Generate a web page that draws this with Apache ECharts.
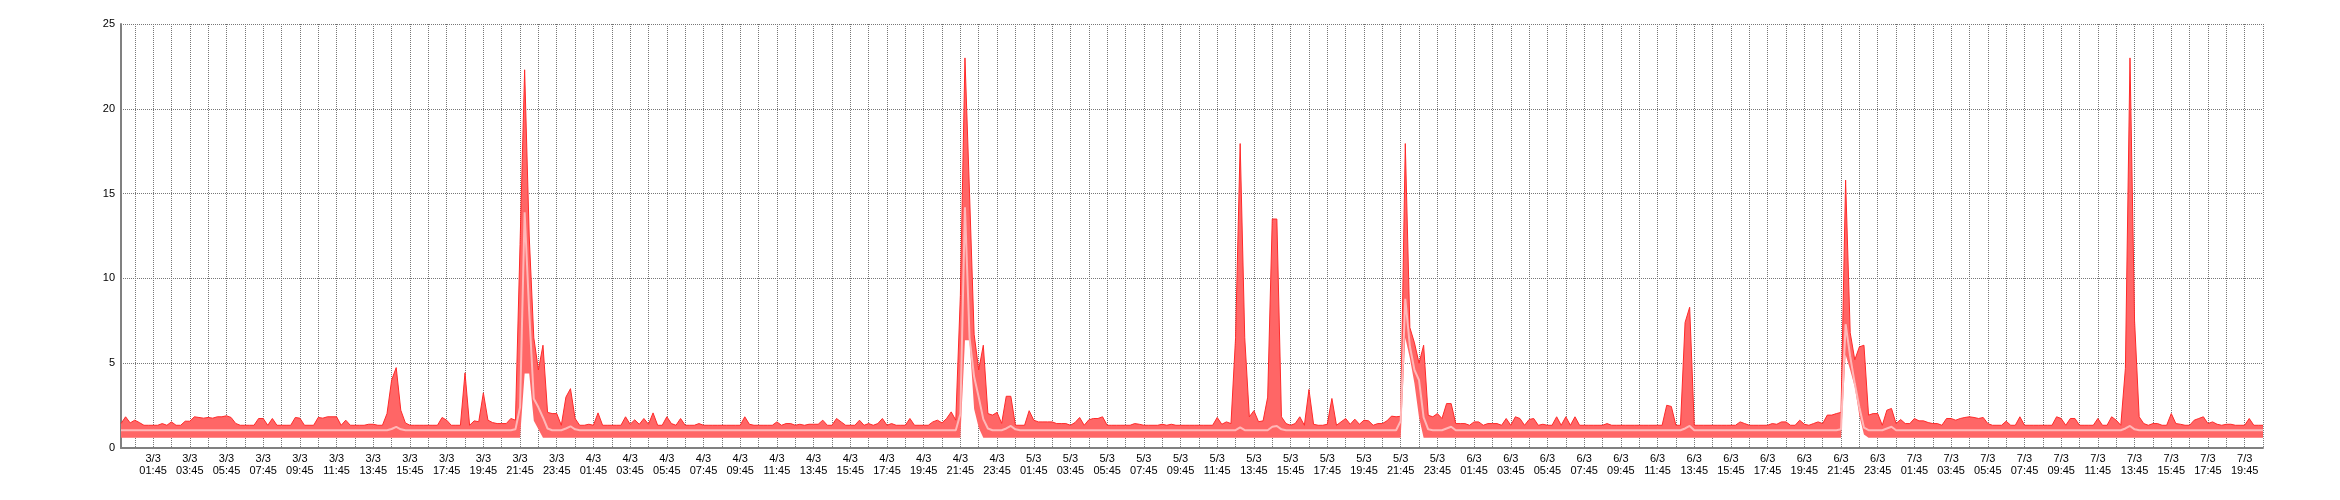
<!DOCTYPE html>
<html>
<head>
<meta charset="utf-8">
<script src="https://cdn.jsdelivr.net/npm/echarts@6.0.0/dist/echarts.min.js"></script>
<style>
html,body{margin:0;padding:0;background:#fff;}
#chart{width:2340px;height:500px;}
</style>
</head>
<body>
<div id="chart"></div>
<script>
// Days covered by the x axis (15-minute samples, 3/3 00:00 .. 7/3 20:45)
const days = ['3/3', '4/3', '5/3', '6/3', '7/3'];
const sampleCount = 468;

// Upper edge of the band (maximum)
const maxVals = [
1.44,1.84,1.48,1.64,1.5,1.34,1.34,1.34,1.34,1.44,1.34,1.54,1.34,1.34,1.58,1.58,1.84,1.8,1.76,1.8,
1.76,1.84,1.84,1.9,1.8,1.45,1.34,1.34,1.34,1.34,1.74,1.74,1.34,1.74,1.34,1.34,1.34,1.34,1.8,1.76,
1.34,1.34,1.34,1.8,1.76,1.84,1.84,1.84,1.34,1.64,1.34,1.34,1.34,1.34,1.4,1.4,1.34,1.34,2.03,4.0,
4.74,2.23,1.48,1.34,1.34,1.34,1.34,1.34,1.34,1.34,1.8,1.64,1.34,1.34,1.34,4.43,1.34,1.6,1.55,3.25,
1.64,1.5,1.44,1.44,1.44,1.74,1.64,12.0,22.3,12.5,6.5,4.6,6.06,2.1,2.03,2.03,1.34,3.0,3.5,1.74,
1.34,1.34,1.4,1.34,2.07,1.34,1.34,1.34,1.34,1.34,1.84,1.4,1.66,1.4,1.74,1.4,2.07,1.34,1.34,1.84,
1.44,1.34,1.74,1.34,1.34,1.34,1.44,1.34,1.34,1.34,1.34,1.34,1.34,1.34,1.34,1.34,1.84,1.4,1.34,1.34,
1.34,1.34,1.34,1.54,1.34,1.44,1.44,1.34,1.4,1.34,1.4,1.4,1.4,1.64,1.34,1.34,1.74,1.54,1.34,1.34,
1.34,1.64,1.34,1.44,1.34,1.44,1.74,1.34,1.44,1.34,1.34,1.34,1.74,1.34,1.34,1.34,1.34,1.54,1.64,1.48,
1.74,2.13,1.64,9.0,23.0,15.0,6.7,4.6,6.06,2.03,1.94,2.1,1.45,3.05,3.05,1.34,1.34,1.34,2.2,1.64,
1.54,1.54,1.54,1.54,1.44,1.44,1.44,1.34,1.5,1.8,1.34,1.66,1.74,1.74,1.84,1.34,1.34,1.34,1.34,1.34,
1.34,1.44,1.4,1.34,1.34,1.34,1.34,1.4,1.34,1.4,1.34,1.34,1.34,1.34,1.34,1.34,1.34,1.34,1.34,1.8,
1.4,1.54,1.44,6.5,17.95,6.5,1.84,2.2,1.55,1.6,3.0,13.5,13.5,1.84,1.44,1.34,1.44,1.84,1.34,3.45,
1.4,1.34,1.34,1.4,2.92,1.34,1.54,1.74,1.4,1.7,1.4,1.64,1.6,1.34,1.44,1.44,1.6,1.88,1.84,1.87,
17.95,7.1,6.2,5.0,6.06,1.93,1.84,2.03,1.74,2.62,2.62,1.44,1.44,1.44,1.34,1.54,1.54,1.34,1.44,1.44,
1.44,1.34,1.74,1.34,1.84,1.74,1.34,1.68,1.74,1.34,1.4,1.34,1.34,1.84,1.34,1.84,1.34,1.84,1.34,1.34,
1.34,1.34,1.34,1.34,1.44,1.34,1.34,1.34,1.34,1.34,1.34,1.34,1.34,1.34,1.34,1.34,1.34,2.52,2.45,1.34,
1.34,7.4,8.3,1.34,1.34,1.34,1.34,1.34,1.34,1.34,1.34,1.34,1.34,1.54,1.44,1.34,1.34,1.34,1.34,1.34,
1.44,1.4,1.54,1.54,1.34,1.34,1.64,1.4,1.34,1.44,1.54,1.44,1.94,1.94,2.03,2.1,15.8,6.8,5.2,5.96,
6.06,1.94,2.03,2.03,1.34,2.23,2.33,1.44,1.68,1.44,1.44,1.74,1.6,1.6,1.5,1.44,1.44,1.34,1.74,1.74,
1.64,1.74,1.8,1.84,1.8,1.74,1.8,1.44,1.34,1.34,1.34,1.58,1.34,1.34,1.84,1.34,1.34,1.34,1.34,1.34,
1.34,1.34,1.84,1.74,1.34,1.74,1.74,1.34,1.34,1.34,1.34,1.74,1.34,1.34,1.84,1.64,1.34,4.7,23.0,7.5,
1.84,1.44,1.34,1.44,1.44,1.34,1.34,2.03,1.44,1.4,1.34,1.34,1.64,1.74,1.84,1.44,1.54,1.4,1.34,1.4,
1.4,1.34,1.34,1.34,1.74,1.34,1.34,1.34
];

// Lower edge of the band (minimum)
const minVals = [
0.6,0.6,0.6,0.6,0.6,0.6,0.6,0.6,0.6,0.6,0.6,0.6,0.6,0.6,0.6,0.6,0.6,0.6,0.6,0.6,
0.6,0.6,0.6,0.6,0.6,0.6,0.6,0.6,0.6,0.6,0.6,0.6,0.6,0.6,0.6,0.6,0.6,0.6,0.6,0.6,
0.6,0.6,0.6,0.6,0.6,0.6,0.6,0.6,0.6,0.6,0.6,0.6,0.6,0.6,0.6,0.6,0.6,0.6,0.6,0.6,
0.6,0.6,0.6,0.6,0.6,0.6,0.6,0.6,0.6,0.6,0.6,0.6,0.6,0.6,0.6,0.6,0.6,0.6,0.6,0.6,
0.6,0.6,0.6,0.6,0.6,0.6,0.6,0.6,4.4,4.4,1.6,1.1,0.6,0.6,0.6,0.6,0.6,0.6,0.6,0.6,
0.6,0.6,0.6,0.6,0.6,0.6,0.6,0.6,0.6,0.6,0.6,0.6,0.6,0.6,0.6,0.6,0.6,0.6,0.6,0.6,
0.6,0.6,0.6,0.6,0.6,0.6,0.6,0.6,0.6,0.6,0.6,0.6,0.6,0.6,0.6,0.6,0.6,0.6,0.6,0.6,
0.6,0.6,0.6,0.6,0.6,0.6,0.6,0.6,0.6,0.6,0.6,0.6,0.6,0.6,0.6,0.6,0.6,0.6,0.6,0.6,
0.6,0.6,0.6,0.6,0.6,0.6,0.6,0.6,0.6,0.6,0.6,0.6,0.6,0.6,0.6,0.6,0.6,0.6,0.6,0.6,
0.6,0.6,0.6,0.6,6.35,6.35,2.3,1.2,0.6,0.6,0.6,0.6,0.6,0.6,0.6,0.6,0.6,0.6,0.6,0.6,
0.6,0.6,0.6,0.6,0.6,0.6,0.6,0.6,0.6,0.6,0.6,0.6,0.6,0.6,0.6,0.6,0.6,0.6,0.6,0.6,
0.6,0.6,0.6,0.6,0.6,0.6,0.6,0.6,0.6,0.6,0.6,0.6,0.6,0.6,0.6,0.6,0.6,0.6,0.6,0.6,
0.6,0.6,0.6,0.6,0.6,0.6,0.6,0.6,0.6,0.6,0.6,0.6,0.6,0.6,0.6,0.6,0.6,0.6,0.6,0.6,
0.6,0.6,0.6,0.6,0.6,0.6,0.6,0.6,0.6,0.6,0.6,0.6,0.6,0.6,0.6,0.6,0.6,0.6,0.6,0.6,
6.5,5.3,3.8,1.8,0.6,0.6,0.6,0.6,0.6,0.6,0.6,0.6,0.6,0.6,0.6,0.6,0.6,0.6,0.6,0.6,
0.6,0.6,0.6,0.6,0.6,0.6,0.6,0.6,0.6,0.6,0.6,0.6,0.6,0.6,0.6,0.6,0.6,0.6,0.6,0.6,
0.6,0.6,0.6,0.6,0.6,0.6,0.6,0.6,0.6,0.6,0.6,0.6,0.6,0.6,0.6,0.6,0.6,0.6,0.6,0.6,
0.6,0.6,0.6,0.6,0.6,0.6,0.6,0.6,0.6,0.6,0.6,0.6,0.6,0.6,0.6,0.6,0.6,0.6,0.6,0.6,
0.6,0.6,0.6,0.6,0.6,0.6,0.6,0.6,0.6,0.6,0.6,0.6,0.6,0.6,0.6,0.6,5.5,4.6,3.6,1.9,
0.8,0.6,0.6,0.6,0.6,0.6,0.6,0.6,0.6,0.6,0.6,0.6,0.6,0.6,0.6,0.6,0.6,0.6,0.6,0.6,
0.6,0.6,0.6,0.6,0.6,0.6,0.6,0.6,0.6,0.6,0.6,0.6,0.6,0.6,0.6,0.6,0.6,0.6,0.6,0.6,
0.6,0.6,0.6,0.6,0.6,0.6,0.6,0.6,0.6,0.6,0.6,0.6,0.6,0.6,0.6,0.6,0.6,0.6,0.6,0.6,
0.6,0.6,0.6,0.6,0.6,0.6,0.6,0.6,0.6,0.6,0.6,0.6,0.6,0.6,0.6,0.6,0.6,0.6,0.6,0.6,
0.6,0.6,0.6,0.6,0.6,0.6,0.6,0.6
];

// Average line
const avgVals = [
1.05,1.05,1.05,1.05,1.05,1.05,1.05,1.05,1.05,1.05,1.05,1.05,1.05,1.05,1.05,1.05,1.05,1.05,1.05,1.05,
1.05,1.05,1.05,1.05,1.05,1.05,1.05,1.05,1.05,1.05,1.05,1.05,1.05,1.05,1.05,1.05,1.05,1.05,1.05,1.05,
1.05,1.05,1.05,1.05,1.05,1.05,1.05,1.05,1.05,1.05,1.05,1.05,1.05,1.05,1.05,1.05,1.05,1.05,1.05,1.12,
1.25,1.1,1.05,1.05,1.05,1.05,1.05,1.05,1.05,1.05,1.05,1.05,1.05,1.05,1.05,1.05,1.05,1.05,1.05,1.05,
1.05,1.05,1.05,1.05,1.05,1.05,1.1,2.4,13.9,8.0,2.9,2.4,1.8,1.15,1.05,1.05,1.05,1.15,1.28,1.1,
1.05,1.05,1.05,1.05,1.05,1.05,1.05,1.05,1.05,1.05,1.05,1.05,1.05,1.05,1.05,1.05,1.05,1.05,1.05,1.05,
1.05,1.05,1.05,1.05,1.05,1.05,1.05,1.05,1.05,1.05,1.05,1.05,1.05,1.05,1.05,1.05,1.05,1.05,1.05,1.05,
1.05,1.05,1.05,1.05,1.05,1.05,1.05,1.05,1.05,1.05,1.05,1.05,1.05,1.05,1.05,1.05,1.05,1.05,1.05,1.05,
1.05,1.05,1.05,1.05,1.05,1.05,1.05,1.05,1.05,1.05,1.05,1.05,1.05,1.05,1.05,1.05,1.05,1.05,1.05,1.05,
1.05,1.05,1.05,2.0,14.2,6.5,4.2,3.0,1.7,1.15,1.05,1.05,1.05,1.15,1.3,1.1,1.05,1.05,1.05,1.05,
1.05,1.05,1.05,1.05,1.05,1.05,1.05,1.05,1.05,1.05,1.05,1.05,1.05,1.05,1.05,1.05,1.05,1.05,1.05,1.05,
1.05,1.05,1.05,1.05,1.05,1.05,1.05,1.05,1.05,1.05,1.05,1.05,1.05,1.05,1.05,1.05,1.05,1.05,1.05,1.05,
1.05,1.05,1.05,1.05,1.22,1.05,1.05,1.05,1.05,1.05,1.05,1.25,1.3,1.1,1.05,1.05,1.05,1.05,1.05,1.05,
1.05,1.05,1.05,1.05,1.05,1.05,1.05,1.05,1.05,1.05,1.05,1.05,1.05,1.05,1.05,1.05,1.05,1.05,1.05,1.6,
8.8,6.0,4.6,4.0,1.8,1.1,1.05,1.05,1.05,1.15,1.25,1.05,1.05,1.05,1.05,1.05,1.05,1.05,1.05,1.05,
1.05,1.05,1.05,1.05,1.05,1.05,1.05,1.05,1.05,1.05,1.05,1.05,1.05,1.05,1.05,1.05,1.05,1.05,1.05,1.05,
1.05,1.05,1.05,1.05,1.05,1.05,1.05,1.05,1.05,1.05,1.05,1.05,1.05,1.05,1.05,1.05,1.05,1.05,1.05,1.05,
1.05,1.15,1.3,1.05,1.05,1.05,1.05,1.05,1.05,1.05,1.05,1.05,1.05,1.05,1.05,1.05,1.05,1.05,1.05,1.05,
1.05,1.05,1.05,1.05,1.05,1.05,1.05,1.05,1.05,1.05,1.05,1.05,1.05,1.05,1.05,1.1,7.3,5.4,3.8,2.4,
1.2,1.05,1.05,1.05,1.05,1.15,1.25,1.05,1.05,1.05,1.05,1.05,1.05,1.05,1.05,1.05,1.05,1.05,1.05,1.05,
1.05,1.05,1.05,1.05,1.05,1.05,1.05,1.05,1.05,1.05,1.05,1.05,1.05,1.05,1.05,1.05,1.05,1.05,1.05,1.05,
1.05,1.05,1.05,1.05,1.05,1.05,1.05,1.05,1.05,1.05,1.05,1.05,1.05,1.05,1.05,1.05,1.05,1.15,1.3,1.1,
1.05,1.05,1.05,1.05,1.05,1.05,1.05,1.05,1.05,1.05,1.05,1.05,1.05,1.05,1.05,1.05,1.05,1.05,1.05,1.05,
1.05,1.05,1.05,1.05,1.05,1.05,1.05,1.05
];

// Y axis ticks
const yTicks = [0, 5, 10, 15, 20, 25];

// Build category labels (day + time, 15-minute steps)
const categories = [];
for (let d = 0; d < days.length && categories.length < sampleCount; d++) {
  for (let s = 0; s < 96 && categories.length < sampleCount; s++) {
    const hh = String(Math.floor(s / 4)).padStart(2, '0');
    const mm = String((s % 4) * 15).padStart(2, '0');
    categories.push(days[d] + '\n' + hh + ':' + mm);
  }
}

const rangeVals = maxVals.map((v, i) => +(v - minVals[i]).toFixed(3));

const font = '"Liberation Sans", Arial, sans-serif';
const chart = echarts.init(document.getElementById('chart'), null, {renderer: 'canvas'});
chart.setOption({
  animation: false,
  backgroundColor: '#ffffff',
  grid: {left: 121, right: 77, top: 24, bottom: 52, containLabel: false},
  xAxis: {
    type: 'category',
    data: categories,
    boundaryGap: false,
    axisLine: {show: true, lineStyle: {color: '#808080', width: 2}},
    axisTick: {show: false},
    axisLabel: {
      interval: function (index) { return index % 8 === 7; },
      color: '#000',
      fontFamily: font,
      fontSize: 11,
      lineHeight: 12,
      margin: 5,
      align: 'center'
    },
    splitLine: {
      show: true,
      interval: function (index) { return index % 4 === 3; },
      lineStyle: {color: '#777', width: 1, type: [1, 1]}
    }
  },
  yAxis: {
    type: 'value',
    min: yTicks[0],
    max: yTicks[yTicks.length - 1],
    interval: yTicks[1] - yTicks[0],
    axisLine: {show: true, lineStyle: {color: '#808080', width: 2}},
    axisTick: {show: false},
    axisLabel: {color: '#000', fontFamily: font, fontSize: 11, margin: 6},
    splitLine: {show: true, lineStyle: {color: '#777', width: 1, type: [1, 1]}}
  },
  series: [
    {
      name: 'min', type: 'line', stack: 'band', data: minVals,
      symbol: 'none', showSymbol: false, silent: true,
      lineStyle: {width: 0, opacity: 0}
    },
    {
      name: 'range', type: 'line', stack: 'band', data: rangeVals,
      symbol: 'none', showSymbol: false, silent: true,
      lineStyle: {color: '#ff2a2a', width: 1},
      areaStyle: {color: '#ff6666', opacity: 1}
    },
    {
      name: 'avg', type: 'line', data: avgVals,
      symbol: 'none', showSymbol: false, silent: true, z: 5,
      lineStyle: {color: '#ffb8b8', width: 2}
    }
  ]
});
</script>
</body>
</html>
